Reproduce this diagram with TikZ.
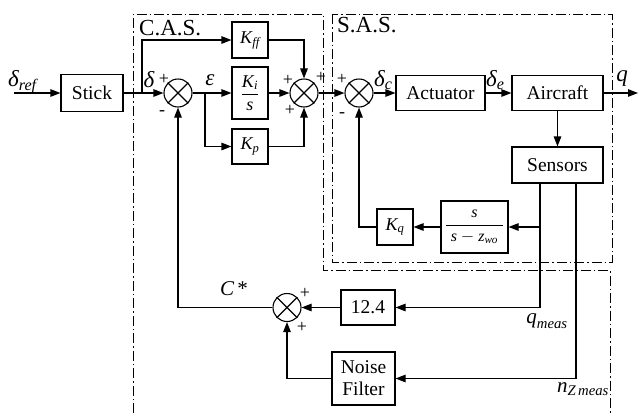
\documentclass[tikz,border=0pt]{standalone}
\usepackage{amsmath}
\usepackage{fontspec}
\setmainfont{Liberation Serif}
\usetikzlibrary{arrows.meta,calc}
\newcommand{\mi}[1]{\textit{#1}}
\begin{document}
\begin{tikzpicture}[x=1pt,y=-1pt,
  blk/.style={draw,line width=1.1pt,inner sep=1pt,align=center,font=\fontsize{19.5}{23}\selectfont},
  kblk/.style={blk,font=\fontsize{18}{20}\selectfont},
  sumj/.style={draw,circle,line width=1.1pt,minimum size=28pt,inner sep=0pt},
  con/.style={line width=1.1pt,-{Triangle[length=10pt,width=7.5pt]}},
  ln/.style={line width=1.1pt},
  dd/.style={line width=1pt,dash pattern=on 10pt off 3pt on 1.5pt off 3pt},
  lbl/.style={inner sep=0pt,font=\fontsize{21}{22}\selectfont},
  gl/.style={inner sep=0pt,font=\fontsize{23}{24}\selectfont},
  ttl/.style={inner sep=0pt,font=\fontsize{23}{25}\selectfont},
  sg/.style={inner sep=0pt,font=\fontsize{18}{18}\selectfont},
]
\useasboundingbox (0,0) rectangle (638,413);

% dash-dot regions
\draw[dd] (133,413) -- (133,14) -- (323,14) -- (323,270) -- (610,270) -- (610,413);
\draw[dd] (332,14) rectangle (612,262);
\node[ttl,anchor=west] (cas) at (139,28) {C.A.S.};
\node[ttl,anchor=west] (sas) at (337,25) {S.A.S.};

% blocks
\node[blk,minimum width=62pt,minimum height=37pt] (stick) at (92,93) {Stick};
\node[kblk,minimum width=36pt,minimum height=36pt] (kff) at (250,40) {$\mi{K}_{\mi{ff}}$};
\node[kblk,minimum width=36pt,minimum height=52pt] (ki) at (250,93) {$\dfrac{\mi{K}_{\mi{i}}}{\mi{s}}$};
\node[kblk,minimum width=36pt,minimum height=35pt] (kp) at (250,146.5) {$\mi{K}_{\mi{p}}$};
\node[blk,minimum width=89pt,minimum height=35pt] (act) at (440.5,93) {Actuator};
\node[blk,minimum width=91pt,minimum height=35pt] (air) at (557.5,93) {Aircraft};
\node[blk,minimum width=91pt,minimum height=36pt] (sens) at (557.5,165) {Sensors};
\node[kblk,minimum width=67pt,minimum height=52pt,font=\fontsize{16}{18}\selectfont] (wo) at (474.5,227) {$\dfrac{\mi{s}}{\;\mi{s}-\mi{z}_{\mi{wo}}\;}$};
\node[kblk,minimum width=36pt,minimum height=36pt] (kq) at (395,227) {$\mi{K}_{\mi{q}}$};
\node[blk,minimum width=54pt,minimum height=35pt] (g) at (368,307.5) {12.4};
\node[blk,minimum width=63pt,minimum height=53pt,font=\fontsize{19.5}{22}\selectfont] (nf) at (363.5,378.5) {Noise\\Filter};

% summing junctions
\node[sumj] (s1) at (178,93) {};
\node[sumj] (s2) at (304,93) {};
\node[sumj] (s3) at (359,93) {};
\node[sumj] (s4) at (287,307.5) {};
\foreach \s in {s1,s2,s3,s4}
  \draw[ln] (\s.45) -- (\s.225) (\s.135) -- (\s.-45);

% coordinates
\coordinate (din) at (14,93);
\coordinate (b1) at (142,93);
\coordinate (b2) at (205,93);
\coordinate (qout) at (638,93);
\coordinate (j1) at (540,227);
\coordinate (j2) at (576,378.5);

% connectors
\draw[con] (din) -- (stick.west);
\draw[con] (stick.east) -- (s1.west);
\draw[con] (b1) |- (kff.west);
\draw[con] (s1.east) -- (ki.west);
\draw[con] (b2) |- (kp.west);
\draw[con] (kff.east) -| (s2.north);
\draw[con] (kp.east) -| (s2.south);
\draw[con] (ki.east) -- (s2.west);
\draw[con] (s2.east) -- (s3.west);
\draw[con] (s3.east) -- (act.west);
\draw[con] (act.east) -- (air.west);
\draw[con] (air.east) -- (qout);
\draw[con] (air.south) -- (sens.north);
\draw[con] (sens.south -| j1) |- (wo.east);
\draw[con] (sens.south -| j1) |- (g.east);
\draw[con] (wo.west) -- (kq.east);
\draw[con] (kq.west) -| (s3.south);
\draw[con] (g.west) -- (s4.east);
\draw[con] (sens.south -| j2) |- (nf.east);
\draw[con] (nf.west) -| (s4.south);
\draw[con] (s4.west) -| (s1.south);

% labels
\node[gl,anchor=west] (lref) at (8,82) {$\mi{δ}_{\mi{ref}}$};
\node[gl] (ld) at (149,80) {$\mi{δ}$};
\node[sg] (p1) at (164,79) {+};
\node[sg] (m1) at (162,113) {-};
\node[gl] (leps) at (210,80) {$\mi{ε}$};
\node[sg] (p2a) at (288,80) {+};
\node[sg] (p2b) at (290,110) {+};
\node[sg] (p2c) at (321,77) {+};
\node[sg] (p3) at (342,79) {+};
\node[sg] (m3) at (342,115) {-};
\node[gl,anchor=west] (ldc) at (374,80) {$\mi{δ}_{\mi{c}}$};
\node[gl,anchor=west] (lde) at (486,80) {$\mi{δ}_{\mi{e}}$};
\node[gl] (lq) at (622,79) {$\mi{q}$};
\node[lbl] (lqm) at (547,321) {$\mi{q}_{\mi{meas}}$};
\node[lbl] (lnz) at (583,389) {$\mi{n}_{\mi{Z\,meas}}$};
\node[lbl] (lc) at (234,289) {$\mi{C}\,$*};
\node[sg] (p4a) at (305,293) {+};
\node[sg] (p4b) at (302,327) {+};
\end{tikzpicture}
\end{document}
